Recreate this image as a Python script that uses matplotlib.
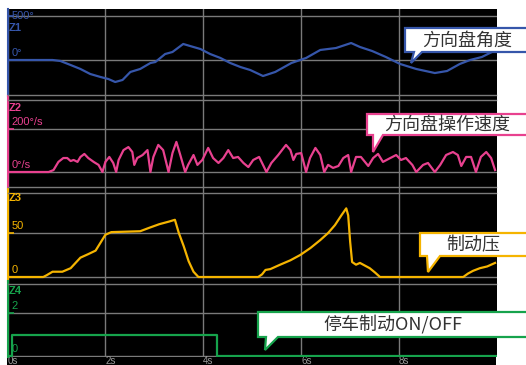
import matplotlib
matplotlib.use("Agg")
from matplotlib import pyplot as plt
from matplotlib.patches import Rectangle, Polygon

plt.rcParams['font.family'] = ['Liberation Sans', 'DejaVu Sans']

# ---- data ----
# Z1 steering wheel angle (deg)
angle_t = [0, 0.92, 1.08, 1.29, 1.49, 1.69, 1.90, 2.06, 2.20, 2.35, 2.51, 2.71,
           2.92, 3.02, 3.22, 3.37, 3.59, 3.73, 3.94, 4.14, 4.35, 4.55, 4.76,
           4.96, 5.22, 5.47, 5.80, 6.10, 6.39, 6.71, 7.02, 7.20, 7.45, 7.73,
           8.02, 8.35, 8.73, 8.98, 9.24, 9.45, 9.69, 9.98]
angle_v = [0, 0, -11, -57, -102, -159, -193, -216, -250, -227, -136, -102,
           -34, -23, 68, 91, 182, 159, 125, 68, 23, -34, -80,
           -114, -182, -136, -34, 23, 114, 136, 193, 148, 102, 34,
           -45, -102, -148, -125, -45, 0, 34, 114]

# Z2 steering rate (deg/s)
rate_t = [0, 0.84, 0.94, 1.04, 1.14, 1.22, 1.29, 1.35, 1.43, 1.49, 1.57, 1.65,
          1.76, 1.86, 1.94, 2.00, 2.08, 2.16, 2.22, 2.27, 2.37, 2.47, 2.55,
          2.59, 2.65, 2.76, 2.86, 2.92, 2.98, 3.08, 3.18, 3.29, 3.37, 3.45,
          3.53, 3.63, 3.69, 3.80, 3.88, 3.98, 4.10, 4.20, 4.31, 4.41, 4.51,
          4.61, 4.71, 4.82, 4.92, 5.02, 5.14, 5.22, 5.29, 5.39, 5.53, 5.69,
          5.78, 5.84, 5.90, 6.00, 6.10, 6.18, 6.29, 6.39, 6.47, 6.55, 6.65,
          6.76, 6.86, 6.96, 7.02, 7.12, 7.22, 7.37, 7.47, 7.57, 7.67, 7.82,
          7.94, 8.04, 8.14, 8.27, 8.35, 8.49, 8.59, 8.73, 8.84, 8.96, 9.10,
          9.20, 9.27, 9.37, 9.47, 9.57, 9.67, 9.78, 9.88, 9.96]
rate_v = [0, 0, 9, 47, 65, 65, 51, 56, 47, 70, 84, 65,
          47, 33, 0, 47, 70, 42, 0, 56, 102, 116, 93,
          33, 65, 79, 102, 0, 70, 126, 102, 0, 88, 140,
          79, 0, 33, 79, 33, 56, 112, 65, 42, 65, 102,
          65, 70, 42, 23, 56, 70, 33, 0, 42, 79, 126,
          102, 56, 84, 88, 0, 65, 112, 79, 0, 33, 19,
          28, 65, 79, 0, 70, 70, 28, 65, 84, 47, 65,
          79, 56, 65, 33, 0, 33, 42, 0, 33, 79, 93,
          79, 28, 70, 70, 0, 70, 93, 65, 9]

# Z3 brake pressure
press_t = [0, 0.73, 0.80, 0.92, 1.04, 1.12, 1.29, 1.49, 1.65, 1.80, 1.90, 2.00,
           2.12, 2.71, 2.90, 3.10, 3.30, 3.42, 3.50, 3.60, 3.70, 3.80, 3.90,
           5.12, 5.20, 5.27, 5.37, 5.57, 5.78, 5.98, 6.19, 6.39, 6.55, 6.69,
           6.82, 6.92, 6.96, 7.00, 7.04, 7.12, 7.20, 7.30, 7.40, 7.51, 7.61,
           9.31, 9.41, 9.51, 9.65, 9.80, 9.96]
press_v = [0, 0, 2, 6, 6, 6, 10, 22, 26, 30, 39, 48,
           51, 52, 56, 60, 63, 65, 50, 35, 18, 6, 0,
           0, 3, 8, 9, 14, 19, 25, 33, 42, 50, 59,
           70, 78, 70, 40, 17, 14, 16, 13, 10, 5, 0,
           0, 4, 7, 10, 12, 16]

# Z4 parking brake ON/OFF
park_t = [0, 0.1, 4.29, 10]
park_v = [0, 1, 0, 0]

time_ticks = [0, 2, 4, 6, 8]
time_labels = ['0s', '2s', '4s', '6s', '8s']

# ---- layout helpers (pixels of a 526x365 image) ----
W, H = 526, 365
fig = plt.figure(figsize=(W / 100, H / 100), dpi=100)
fig.patch.set_facecolor('white')


def fx(x):
    return x / W


def fy(y):
    return 1 - y / H


fig.patches.append(Rectangle((fx(7), fy(365)), fx(496) - fx(7), fy(9) - fy(365),
                             transform=fig.transFigure, facecolor='black',
                             edgecolor='none', zorder=-10))

blue = '#3656aa'
pink = '#e8418f'
yellow = '#f5b400'
green = '#16a34c'
grid = '#7a7a7a'

# panel: (top px, bottom px, scale px, scale value, zero px)
panels = [
    (9, 96, 16, 500, 60),
    (96, 189, 129, 200, 172),
    (189, 281, 233, 50, 277),
    (281, 356.5, 313, 2, 356),
]
series = [(angle_t, angle_v, blue, 'Z1', '500°', '0°'),
          (rate_t, rate_v, pink, 'Z2', '200°/s', '0°/s'),
          (press_t, press_v, yellow, 'Z3', '50', '0'),
          (park_t, park_v, green, 'Z4', '2', '0')]

axes = []
for i, ((top, bot, sp, sv, zp), (t, v, col, zname, slab, zlab)) in enumerate(zip(panels, series)):
    ax = fig.add_axes([fx(7.5), fy(bot), fx(497) - fx(7.5), fy(top) - fy(bot)])
    ax.set_facecolor('black')
    per_px = sv / (zp - sp)
    ax.set_ylim(-(bot - zp) * per_px, (zp - top) * per_px)
    ax.set_xlim(0, 10)
    for s in ['top', 'right', 'bottom']:
        ax.spines[s].set_visible(False)
    ax.spines['left'].set_color(col)
    ax.spines['left'].set_linewidth(1.5)
    ax.set_xticks(time_ticks)
    ax.tick_params(axis='x', length=0, labelbottom=False)
    ax.grid(axis='x', color=grid, lw=1)
    ax.set_yticks([sv])
    ax.tick_params(axis='y', direction='in', length=4, width=1.2, color=col,
                   labelleft=False)
    ax.axhline(sv, color=grid, lw=1, zorder=1)
    ax.axhline(0, color=grid, lw=1, zorder=1)
    if zname == 'Z4':
        ax.plot(t, v, color=col, lw=1.6, drawstyle='steps-post', zorder=3)
    else:
        ax.plot(t, v, color=col, lw=1.6, zorder=3)
    if i == 0:
        ax.annotate(slab, xy=(0, sv), xycoords=ax.get_yaxis_transform(),
                    xytext=(3, 0), textcoords='offset points', color=col,
                    fontsize=8, va='center', ha='left')
    else:
        ax.annotate(slab, xy=(0, sv), xycoords=ax.get_yaxis_transform(),
                    xytext=(3, 1.5), textcoords='offset points', color=col,
                    fontsize=8, va='bottom', ha='left')
    ax.annotate(zlab, xy=(0, 0), xycoords=ax.get_yaxis_transform(),
                xytext=(3, 1.5), textcoords='offset points', color=col,
                fontsize=8, va='bottom', ha='left')
    axes.append(ax)

# Z labels
for ypx, (_, _, col, zname, _, _) in zip([28, 108, 198, 291], series):
    fig.text(fx(8.5), fy(ypx), zname, color=col, fontsize=8, va='center',
             ha='left', fontweight='bold')

# panel border lines
for ypx in [95, 100, 187, 193, 284]:
    fig.lines.append(plt.Line2D([fx(7.5), fx(496)], [fy(ypx), fy(ypx)],
                                transform=fig.transFigure, color=grid, lw=1))

# bottom time labels
axes[-1].set_xticklabels(time_labels)
axes[-1].tick_params(axis='x', labelbottom=True, labelsize=7, labelcolor='#9a9a9a',
                     pad=0)
for lab in axes[-1].get_xticklabels():
    lab.set_ha('left')


# callouts
def callout(text, col, left, top, bottom, tail, tcx, tcy):
    x1, x2, tx, ty = tail
    pts = [(left, top), (545, top), (545, bottom), (x2, bottom), (tx, ty),
           (x1, bottom), (left, bottom)]
    poly = Polygon([(fx(a), fy(b)) for a, b in pts], closed=True,
                   transform=fig.transFigure, facecolor='white', edgecolor=col,
                   lw=1.6, zorder=20)
    fig.patches.append(poly)
    fig.text(fx(tcx), fy(tcy), text, color='#333333', fontsize=13,
             family=['Noto Sans CJK SC', 'DejaVu Sans'], ha='center',
             va='center', zorder=21)


callout('方向盘角度', blue, 405, 28, 52, (414, 422, 411, 63), 467, 41)
callout('方向盘操作速度', pink, 367, 114, 135, (373, 383, 373, 152), 447, 125)
callout('制动压', yellow, 420, 233, 256, (427, 440, 428, 272), 473, 245)
callout('停车制动ON/OFF', green, 258, 312, 337, (266, 278, 265, 350), 393, 325)

plt.savefig('out.png', dpi=100)
